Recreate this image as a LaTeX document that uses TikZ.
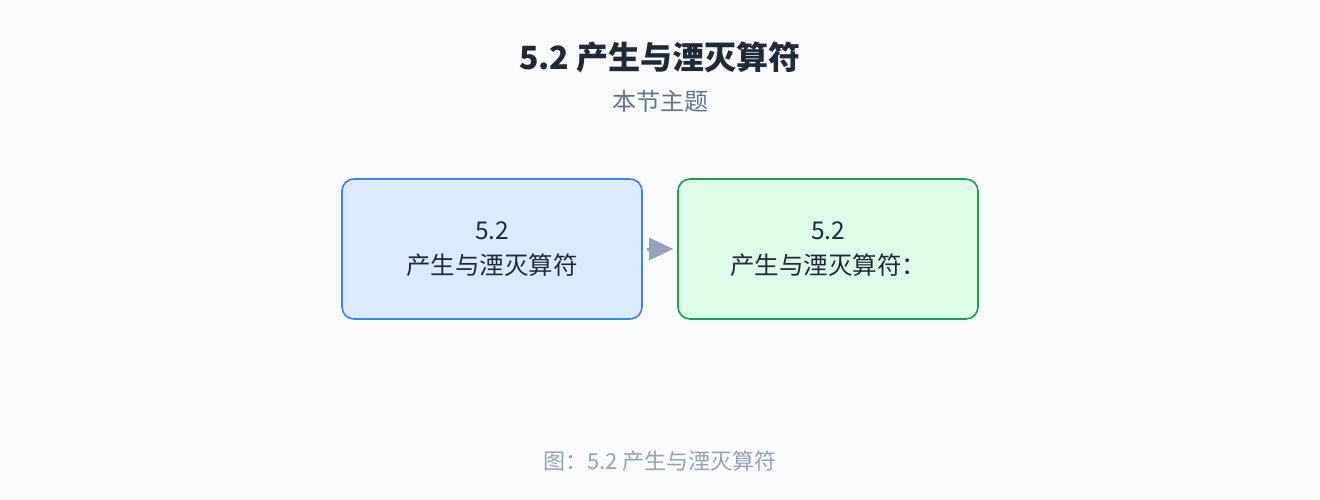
\documentclass[tikz,border=0pt]{standalone}
\usepackage{fontspec}
\setmainfont{Noto Sans CJK SC}
\usepackage{tikz}
\usetikzlibrary{arrows.meta}

\definecolor{bgcol}{HTML}{F8FAFC}
\definecolor{titlecol}{HTML}{1E293B}
\definecolor{subcol}{HTML}{64748B}
\definecolor{capcol}{HTML}{94A3B8}
\definecolor{bluefill}{HTML}{DBEAFE}
\definecolor{blueline}{HTML}{3B82F6}
\definecolor{greenfill}{HTML}{DCFCE7}
\definecolor{greenline}{HTML}{16A34A}

\tikzset{
  topicbox/.style = {rounded corners = 12pt, line width = 1.6pt, minimum width = 300pt,
    minimum height = 140pt, align = center, text = titlecol, font = \fontsize{24.5}{35}\selectfont},
}

\begin{document}
\begin{tikzpicture}[x = 1pt, y = -1pt]
				\fill [bgcol] (0,0) rectangle (1320,500);
				\useasboundingbox (0,0) rectangle (1320,500);
				\node (title) at (660,57) [text = titlecol, font = \fontsize{32}{36}\selectfont\bfseries]{5.2 产生与湮灭算符};
				\node (sub) at (660,101) [text = subcol, font = \fontsize{24}{28}\selectfont]{本节主题};
				\node (left) at (492,249) [topicbox, fill = bluefill, draw = blueline]{5.2\\产生与湮灭算符};
				\node (right) at (828,249) [topicbox, fill = greenfill, draw = greenline]{5.2\\产生与湮灭算符：};
				\draw [-{Triangle[length = 24pt, width = 22pt]}, line width = 3pt, capcol, shorten <= 4pt, shorten >= 4pt] (left) -- (right);
				\node (caption) at (660,461) [text = capcol, font = \fontsize{22}{26}\selectfont]{图：5.2 产生与湮灭算符};
		\end{tikzpicture}
\end{document}
